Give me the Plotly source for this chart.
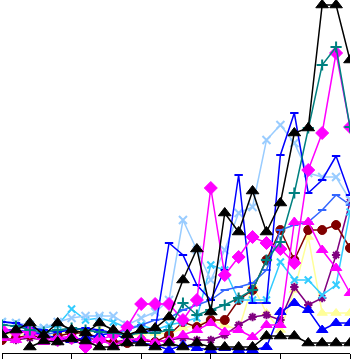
import plotly.graph_objects as go

x_index = list(range(26))
tick_positions = [0, 5, 10, 15, 20, 25]

black_high = [13,18,25,13,25,18,15,25,18,13,18,20,31,68,99,36,135,116,157,116,145,215,220,343,343,288]
black_low = [None,None,1,7,6,9,7,1,1,5,5,1,5,1,5,1,1,1,1,12,12,12,5,5,5,5]
magenta_diamond = [18,16,16,11,8,10,1,8,13,21,44,44,44,28,48,160,73,91,111,105,99,85,178,215,295,221]
teal_plus = [23,22,18,16,18,20,18,16,15,13,15,15,18,45,33,38,43,50,58,88,106,155,220,283,301,221]
lightblue_x = [26,25,23,20,26,30,32,32,32,23,30,36,48,128,98,68,98,135,141,208,223,205,175,171,171,148]
cyan_dash = [26,25,18,20,23,39,28,30,26,20,23,18,23,26,30,83,78,48,48,48,86,68,68,53,63,136]
maroon_circle = [8,10,13,10,12,15,15,10,5,5,8,6,13,26,21,28,28,48,58,88,118,88,118,118,123,100]
magenta_tri = [10,8,13,6,10,12,5,8,3,8,10,6,8,13,18,25,16,18,11,23,23,126,126,98,80,55]
blue_tri = [18,18,16,13,10,8,10,13,15,8,5,3,-2,3,0,-2,0,-2,-2,1,36,45,38,18,25,25]
royal_dash = [26,25,18,13,16,20,18,16,15,18,23,28,30,38,43,48,58,61,65,78,118,123,126,138,153,143]
blue_dash = [26,25,20,18,16,18,20,18,15,13,16,18,105,93,63,48,78,173,45,45,193,235,155,168,192,153]
yellow_tri = [13,15,13,16,13,18,15,18,13,11,15,15,14,20,23,28,23,18,63,35,18,58,111,35,35,35]
purple_star = [8,8,10,8,6,8,10,8,6,8,8,6,8,10,8,8,13,23,31,33,28,61,43,50,93,146]

series = [
    ("yellow", yellow_tri, "#FFFF99", "triangle-up", 9),
    ("purple", purple_star, "#800080", "asterisk-open", 7),
    ("maroon", maroon_circle, "#800000", "circle", 9),
    ("cyan", cyan_dash, "#33CCFF", "x-thin-open", 7),
    ("royal", royal_dash, "#3366FF", "line-ew-open", 6),
    ("lightblue", lightblue_x, "#99CCFF", "x-thin-open", 8),
    ("bluetri", blue_tri, "#0000FF", "triangle-up", 10),
    ("magtri", magenta_tri, "#FF00FF", "triangle-up", 10),
    ("blue", blue_dash, "#0000FF", "line-ew-open", 6),
    ("magdiamond", magenta_diamond, "#FF00FF", "diamond", 10),
    ("teal", teal_plus, "#008080", "cross-thin-open", 8),
    ("blacklow", black_low, "#000000", "triangle-up", 11),
    ("blackhigh", black_high, "#000000", "triangle-up", 11),
]

fig = go.Figure()
for name, vals, color, sym, size in series:
    fig.add_trace(go.Scatter(
        x=x_index, y=vals, mode="lines+markers", name=name,
        line=dict(color=color, width=1.5),
        marker=dict(symbol=sym, size=size, color=color,
                    line=dict(color=color, width=2 if "open" in sym else 1)),
        showlegend=False,
    ))

fig.update_layout(
    width=356, height=359,
    margin=dict(l=2, r=6, t=0, b=6),
    paper_bgcolor="white", plot_bgcolor="white",
    xaxis=dict(range=[0, 25], tickvals=tick_positions, ticks="outside", ticklen=6,
               tickcolor="black", showticklabels=False, showline=True,
               linecolor="black", linewidth=1, showgrid=False, zeroline=False),
    yaxis=dict(range=[-5, 348], visible=False, showgrid=False, zeroline=False),
)
fig.write_html("out.html", config={"displayModeBar": False},
               post_script="document.body.style.margin='0px';")
